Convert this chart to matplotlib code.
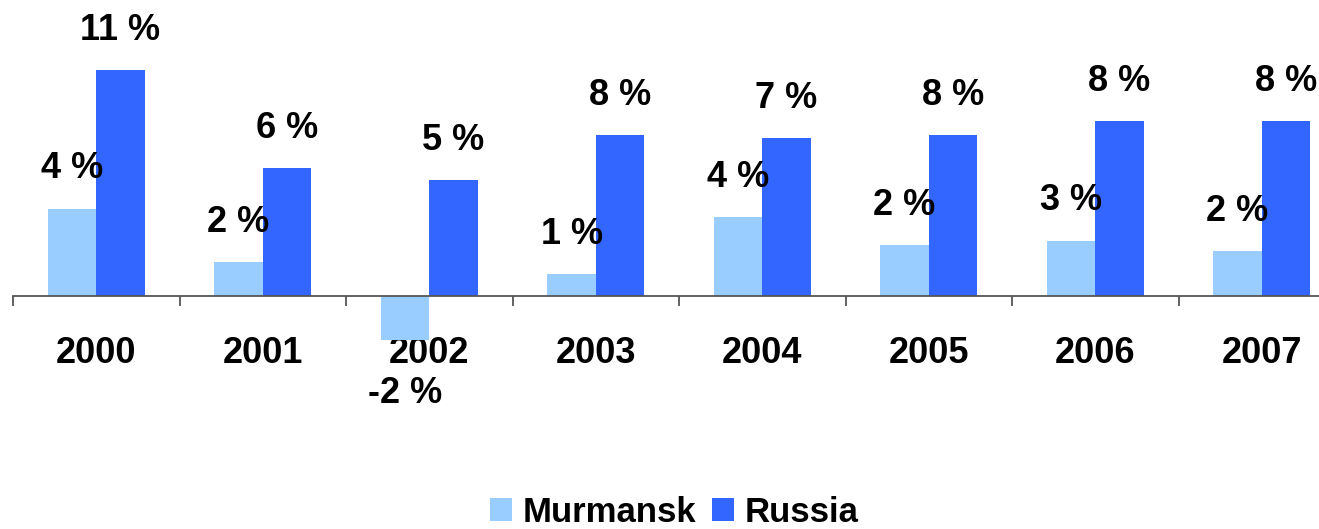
import matplotlib
matplotlib.use('Agg')
import matplotlib.pyplot as plt
import numpy as np

plt.rcParams['font.family'] = ['Liberation Sans', 'DejaVu Sans']

# data (percent growth)
years = ['2000', '2001', '2002', '2003', '2004', '2005', '2006', '2007']
murmansk = [4.1, 1.6, -2.07, 1.03, 3.7, 2.4, 2.6, 2.1]
russia = [10.6, 6.0, 5.45, 7.56, 7.4, 7.56, 8.2, 8.2]
series_names = ['Murmansk', 'Russia']
colors = ['#99CCFF', '#3366FF']

fig = plt.figure(figsize=(13.19, 5.29), dpi=100)
ax = fig.add_axes([13 / 1319, 0, 1332 / 1319, 1])

x = np.arange(len(years))
w = 0.29
bars_m = ax.bar(x - w / 2, murmansk, w, color=colors[0], label=series_names[0], zorder=2)
bars_r = ax.bar(x + w / 2, russia, w, color=colors[1], label=series_names[1], zorder=2)

for bars, vals in ((bars_m, murmansk), (bars_r, russia)):
    for b, v in zip(bars, vals):
        cx = b.get_x() + b.get_width() / 2
        txt = f"{round(v):d} %"
        if v >= 0:
            ax.annotate(txt, (cx, v), xytext=(0, 16), textcoords='offset points',
                        ha='center', va='bottom', fontsize=26, fontweight='bold')
        else:
            ax.annotate(txt, (cx, v), xytext=(0, -26), textcoords='offset points',
                        ha='center', va='top', fontsize=26, fontweight='bold')

ax.set_xlim(-0.5, len(years) - 0.5)
ax.set_ylim(-(529 - 296) / 21.3, 296 / 21.3)

for s in ('left', 'right', 'top'):
    ax.spines[s].set_visible(False)
ax.spines['bottom'].set_position(('data', 0))
ax.spines['bottom'].set_color('#555555')
ax.spines['bottom'].set_linewidth(1.3)
ax.set_yticks([])

ax.set_xticks(x)
ax.set_xticklabels(years, fontsize=26, fontweight='bold')
ax.tick_params(axis='x', which='major', length=0, pad=29)
ax.set_xticks(np.arange(len(years) + 1) - 0.5, minor=True)
ax.tick_params(axis='x', which='minor', length=7.5, width=1.3, color='#555555', direction='out')

fig.legend(handles=[bars_m, bars_r], labels=series_names, loc='center',
           bbox_to_anchor=(0.511, 0.032), frameon=False, ncol=2,
           prop={'size': 25, 'weight': 'bold'}, handlelength=0.63, handleheight=0.63,
           handletextpad=0.3, columnspacing=0.46, borderaxespad=0)

fig.savefig('out.png', dpi=100)
